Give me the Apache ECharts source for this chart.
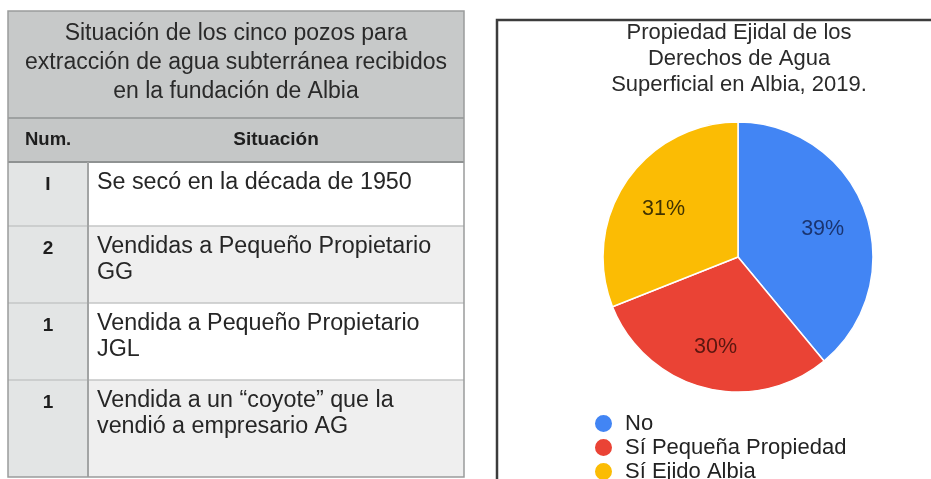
<!DOCTYPE html>
<html>
<head>
<meta charset="utf-8">
<script src="https://cdn.jsdelivr.net/npm/echarts@6/dist/echarts.min.js"></script>
<style>
  html, body { margin: 0; padding: 0; background: #ffffff; }
  #chart { width: 931px; height: 479px; }
</style>
</head>
<body>
<div id="chart"></div>
<script>
// Table: wells received at the founding of Albia
const tableTitleLines = [
  'Situación de los cinco pozos para',
  'extracción de agua subterránea recibidos',
  'en la fundación de Albia'
];
const tableHeaders = ['Num.', 'Situación'];
const wellCounts = ['I', '2', '1', '1'];
const wellSituations = [
  ['Se secó en la década de 1950'],
  ['Vendidas a Pequeño Propietario', 'GG'],
  ['Vendida a Pequeño Propietario', 'JGL'],
  ['Vendida a un “coyote” que la', 'vendió a empresario AG']
];

// Pie: ejido ownership of surface water rights
const pieTitle = 'Propiedad Ejidal de los\nDerechos de Agua\nSuperficial en Albia, 2019.';
const ownershipCategories = ['No', 'Sí Pequeña Propiedad', 'Sí Ejido Albia'];
const ownershipShares = [39, 30, 31];
const sliceColors = ['#4285f4', '#ea4335', '#fbbc04'];
const sliceLabelColors = ['#1a3470', '#5a160f', '#403200'];

const FONT = '"Liberation Sans", Arial, Helvetica, sans-serif';

// ---- table layout ----
const T = { left: 8, right: 464, top: 11, bottom: 477, titleBottom: 118, headBottom: 162, numRight: 88 };
const rowEdges = [162, 226, 303, 380, 477];
const rowFills = ['#ffffff', '#efefef', '#ffffff', '#efefef'];

function buildTable() {
  const els = [];
  const W = T.right - T.left;
  // title block
  els.push({ type: 'rect', shape: { x: T.left, y: T.top, width: W, height: T.titleBottom - T.top },
    style: { fill: '#c7c9c9' }, z: 1 });
  // header row
  els.push({ type: 'rect', shape: { x: T.left, y: T.titleBottom, width: W, height: T.headBottom - T.titleBottom },
    style: { fill: '#c5c7c7' }, z: 1 });
  // body rows
  wellCounts.forEach((n, i) => {
    const y0 = rowEdges[i], y1 = rowEdges[i + 1];
    els.push({ type: 'rect', shape: { x: T.left, y: y0, width: W, height: y1 - y0 },
      style: { fill: rowFills[i] }, z: 1 });
    els.push({ type: 'rect', shape: { x: T.left, y: y0, width: T.numRight - T.left, height: y1 - y0 },
      style: { fill: '#e3e5e5' }, z: 1 });
    els.push({ type: 'text', x: 48, y: y0 + 23, z: 5,
      style: { text: n, fill: '#1e1e1e', font: 'bold 19px ' + FONT, align: 'center', verticalAlign: 'middle' } });
    els.push({ type: 'text', x: 97, y: y0 + 8, z: 5,
      style: { text: wellSituations[i].join('\n'), fill: '#262626', font: '23.3px ' + FONT,
        lineHeight: 26, align: 'left', verticalAlign: 'top' } });
    if (i > 0) {
      els.push({ type: 'line', shape: { x1: T.left, y1: y0, x2: T.right, y2: y0 },
        style: { stroke: '#c4c6c6', lineWidth: 1.5 }, z: 3 });
    }
  });
  // separators
  els.push({ type: 'line', shape: { x1: T.left, y1: T.titleBottom, x2: T.right, y2: T.titleBottom },
    style: { stroke: '#9ea1a1', lineWidth: 2 }, z: 3 });
  els.push({ type: 'line', shape: { x1: T.left, y1: T.headBottom, x2: T.right, y2: T.headBottom },
    style: { stroke: '#8f9292', lineWidth: 2 }, z: 3 });
  els.push({ type: 'line', shape: { x1: T.numRight, y1: T.headBottom, x2: T.numRight, y2: T.bottom },
    style: { stroke: '#a2a4a4', lineWidth: 2 }, z: 3 });
  // outer border
  els.push({ type: 'rect', shape: { x: T.left, y: T.top, width: W, height: T.bottom - T.top },
    style: { fill: 'none', stroke: '#9a9c9c', lineWidth: 1.5 }, z: 4 });
  // title text
  els.push({ type: 'text', x: (T.left + T.right) / 2, y: 19, z: 5,
    style: { text: tableTitleLines.join('\n'), fill: '#2a2a2a', font: '23px ' + FONT,
      lineHeight: 29, align: 'center', verticalAlign: 'top' } });
  // header text
  els.push({ type: 'text', x: 25, y: 140, z: 5,
    style: { text: tableHeaders[0], fill: '#1e1e1e', font: 'bold 18.5px ' + FONT, align: 'left', verticalAlign: 'middle' } });
  els.push({ type: 'text', x: 276, y: 140, z: 5,
    style: { text: tableHeaders[1], fill: '#1e1e1e', font: 'bold 19px ' + FONT, align: 'center', verticalAlign: 'middle' } });
  // pie panel frame
  els.push({ type: 'rect', shape: { x: 497, y: 20, width: 520, height: 520 },
    style: { fill: 'none', stroke: '#3c3c3c', lineWidth: 2.5 }, z: 4 });
  return els;
}

const pieData = ownershipCategories.map((name, i) => ({
  name, value: ownershipShares[i], itemStyle: { color: sliceColors[i] },
  label: { color: sliceLabelColors[i] }
}));

const chart = echarts.init(document.getElementById('chart'), null, { renderer: 'canvas' });
chart.setOption({
  backgroundColor: '#ffffff',
  animation: false,
  graphic: { elements: buildTable() },
  title: {
    text: pieTitle,
    left: 739, top: 20,
    padding: 0,
    textAlign: 'center',
    textStyle: { fontFamily: FONT, fontSize: 22, fontWeight: 'normal', color: '#2a2a2a', lineHeight: 26 }
  },
  legend: {
    orient: 'vertical',
    left: 593, top: 412.5,
    padding: 0,
    height: 300,
    icon: 'circle',
    itemWidth: 19, itemHeight: 19, itemGap: 2,
    data: ownershipCategories.map((name, i) => ({ name, itemStyle: { color: sliceColors[i] } })),
    textStyle: { fontFamily: FONT, fontSize: 22, color: '#222', lineHeight: 19, padding: [0, 0, 0, 7] }
  },
  series: [
    {
      type: 'pie',
      center: [738, 257],
      radius: [0, 135],
      startAngle: 90,
      clockwise: true,
      silent: true,
      data: pieData,
      itemStyle: { borderColor: '#ffffff', borderWidth: 1.5 },
      label: { show: false },
      labelLine: { show: false }
    },
    {
      // transparent companion ring that places the percentage labels
      type: 'pie',
      center: [738, 257],
      radius: [0, 174],
      startAngle: 90,
      clockwise: true,
      silent: true,
      legendHoverLink: false,
      data: pieData.map(d => ({ name: d.name, value: d.value, label: d.label })),
      itemStyle: { color: 'rgba(0,0,0,0)', borderWidth: 0 },
      label: { show: true, position: 'inside', formatter: '{c}%', fontFamily: FONT, fontSize: 21.5, offset: [0, 3] },
      labelLine: { show: false }
    }
  ]
});
</script>
</body>
</html>
